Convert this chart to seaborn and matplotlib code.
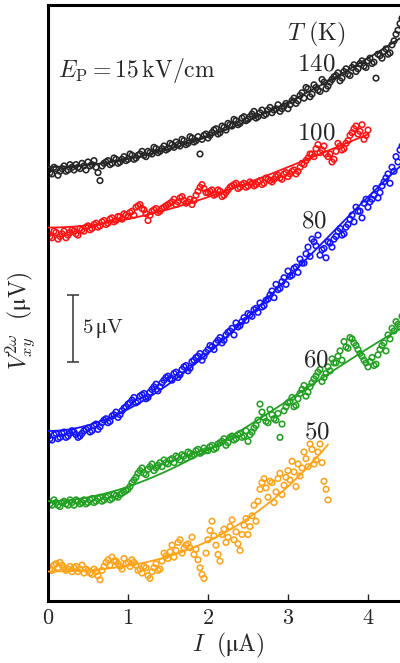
import numpy as np
import pandas as pd
import matplotlib
matplotlib.use("Agg")
import matplotlib.pyplot as plt
import seaborn as sns

# current sweep (uA): main grid and the in-between readings
CURRENT = [
    0.00, 0.05, 0.10, 0.15, 0.20, 0.25, 0.30, 0.35, 0.40, 0.45,
    0.50, 0.55, 0.60, 0.65, 0.70, 0.75, 0.80, 0.85, 0.90, 0.95,
    1.00, 1.05, 1.10, 1.15, 1.20, 1.25, 1.30, 1.35, 1.40, 1.45,
    1.50, 1.55, 1.60, 1.65, 1.70, 1.75, 1.80, 1.85, 1.90, 1.95,
    2.00, 2.05, 2.10, 2.15, 2.20, 2.25, 2.30, 2.35, 2.40, 2.45,
    2.50, 2.55, 2.60, 2.65, 2.70, 2.75, 2.80, 2.85, 2.90, 2.95,
    3.00, 3.05, 3.10, 3.15, 3.20, 3.25, 3.30, 3.35, 3.40, 3.45,
    3.50, 3.55, 3.60, 3.65, 3.70, 3.75, 3.80, 3.85, 3.90, 3.95,
    4.00, 4.05, 4.10, 4.15, 4.20, 4.25, 4.30, 4.35, 4.40, 4.45,
]
CURRENT_MID = [
    0.025, 0.075, 0.125, 0.175, 0.225, 0.275, 0.325, 0.375, 0.425, 0.475,
    0.525, 0.575, 0.625, 0.675, 0.725, 0.775, 0.825, 0.875, 0.925, 0.975,
    1.025, 1.075, 1.125, 1.175, 1.225, 1.275, 1.325, 1.375, 1.425, 1.475,
    1.525, 1.575, 1.625, 1.675, 1.725, 1.775, 1.825, 1.875, 1.925, 1.975,
    2.025, 2.075, 2.125, 2.175, 2.225, 2.275, 2.325, 2.375, 2.425, 2.475,
    2.525, 2.575, 2.625, 2.675, 2.725, 2.775, 2.825, 2.875, 2.925, 2.975,
    3.025, 3.075, 3.125, 3.175, 3.225, 3.275, 3.325, 3.375, 3.425, 3.475,
    3.525, 3.575, 3.625, 3.675, 3.725, 3.775, 3.825, 3.875, 3.925, 3.975,
    4.025, 4.075, 4.125, 4.175, 4.225, 4.275, 4.325, 4.375, 4.425, 4.475,
]

# V_xy^2w in uV (curves offset vertically as in the figure)
V_140K = [
    32.4, 32.1, 32.5, 32.3, 32.7, 32.4, 32.6, 32.8, 32.5, 32.7,
    33.0, 32.8, 32.6, 31.6, 32.9, 33.1, 32.9, 33.2, 33.0, 33.4,
    33.2, 33.5, 33.3, 33.6, 33.5, 33.8, 33.6, 34.0, 33.8, 34.2,
    34.0, 34.3, 34.5, 34.2, 34.6, 34.4, 34.8, 34.6, 33.6, 35.0,
    34.8, 35.2, 35.5, 35.2, 35.6, 35.9, 35.7, 36.1, 35.9, 36.4,
    36.2, 36.6, 36.3, 36.7, 36.5, 36.9, 36.7, 37.0, 36.8, 37.2,
    37.0, 37.6, 37.4, 38.0, 37.8, 38.5, 38.1, 38.6, 38.3, 39.0,
    38.7, 39.2, 39.5, 39.1, 39.8, 39.6, 40.1, 39.8, 40.4, 40.2,
    40.6, 40.4, 39.3, 41.0, 41.3, 41.1, 41.8, 42.6, 43.4, 44.0,
]
V_140K_MID = [
    32.2, 32.6, 32.0, 32.5, 32.3, 32.8, 32.4, 32.6, 32.9, 32.4,
    32.7, 33.1, 32.2, 32.7, 33.0, 32.8, 33.3, 32.9, 33.2, 33.1,
    33.6, 33.2, 33.5, 33.8, 33.4, 33.7, 34.1, 33.7, 34.0, 33.9,
    34.4, 34.1, 34.3, 34.7, 34.3, 34.9, 34.5, 34.9, 34.7, 35.1,
    35.0, 35.4, 35.1, 35.7, 35.4, 35.8, 36.2, 35.8, 36.3, 36.1,
    36.4, 36.8, 36.4, 36.9, 36.6, 37.1, 36.9, 37.3, 37.0, 37.4,
    37.3, 37.8, 37.6, 38.2, 38.6, 37.9, 38.8, 38.4, 39.2, 38.5,
    39.0, 39.4, 39.7, 39.3, 40.0, 39.5, 40.3, 40.0, 40.6, 40.1,
    40.8, 40.5, 41.1, 40.8, 41.5, 41.2, 42.1, 42.9, 43.8, 44.3,
]
V_100K = [
    27.6, 27.3, 27.7, 27.4, 27.8, 27.5, 27.9, 27.6, 28.0, 27.8,
    28.2, 28.0, 28.4, 28.2, 28.6, 28.4, 28.8, 28.6, 28.9, 29.1,
    28.9, 29.3, 29.6, 29.8, 29.4, 28.6, 29.3, 29.5, 29.3, 29.6,
    29.8, 30.0, 29.8, 30.3, 30.1, 30.0, 29.8, 30.5, 31.1, 31.0,
    30.7, 30.9, 30.6, 30.8, 30.5, 30.9, 31.2, 31.4, 31.1, 31.4,
    31.2, 31.4, 31.3, 31.6, 31.4, 31.7, 31.5, 31.9, 31.8, 32.1,
    31.9, 32.3, 32.1, 32.6, 32.8, 33.3, 33.6, 34.0, 33.7, 34.2,
    33.4, 33.0, 33.8, 34.2, 34.0, 34.6, 35.2, 35.7, 35.3, 34.7,
    35.4,
]
V_100K_MID = [
    27.4, 27.8, 27.2, 27.6, 27.3, 27.7, 27.8, 27.5, 27.9, 28.1,
    27.9, 28.3, 28.1, 28.5, 28.3, 28.7, 28.5, 28.9, 28.7, 29.0,
    29.2, 29.0, 29.7, 29.5, 29.1, 29.0, 29.4, 29.2, 29.5, 29.7,
    29.9, 30.2, 30.0, 30.4, 29.9, 30.2, 30.1, 30.8, 31.3, 30.7,
    30.8, 30.5, 30.9, 30.4, 30.7, 31.1, 31.3, 31.0, 31.3, 31.1,
    31.5, 31.2, 31.5, 31.3, 31.8, 31.6, 31.7, 32.0, 31.7, 32.2,
    32.1, 32.4, 32.3, 32.9, 33.1, 33.6, 33.4, 34.3, 33.9, 33.6,
    33.6, 33.2, 34.4, 33.9, 34.4, 35.0, 35.5, 35.1, 35.8, 35.0,
]
V_80K = [
    12.4, 12.1, 12.6, 12.3, 12.7, 12.4, 12.8, 12.5, 12.4, 12.8,
    13.0, 12.8, 13.3, 13.1, 13.6, 13.4, 13.9, 14.2, 14.0, 14.5,
    14.8, 15.1, 14.9, 15.4, 15.6, 15.3, 15.9, 16.3, 16.1, 16.6,
    16.9, 16.6, 17.2, 17.0, 17.6, 17.3, 18.0, 18.3, 18.6, 18.4,
    18.9, 19.1, 19.4, 19.8, 19.6, 20.2, 20.5, 20.9, 20.7, 21.3,
    21.6, 21.4, 22.0, 22.4, 22.2, 22.7, 23.3, 23.8, 23.5, 24.3,
    24.8, 24.5, 25.1, 25.7, 25.4, 26.6, 27.2, 26.7, 26.0, 26.5,
    27.0, 26.6, 27.4, 28.0, 27.6, 28.3, 29.0, 29.6, 29.3, 29.9,
    29.6, 30.2, 31.0, 30.7, 31.5, 32.1, 32.6, 33.4, 33.9, 34.5,
]
V_80K_MID = [
    12.2, 12.5, 12.2, 12.6, 12.3, 12.6, 12.7, 12.3, 12.6, 12.9,
    12.7, 13.2, 12.9, 13.4, 13.7, 13.5, 14.0, 13.8, 14.3, 14.6,
    14.9, 15.3, 15.0, 15.5, 15.2, 15.7, 16.1, 15.8, 16.4, 16.8,
    16.7, 17.1, 16.8, 17.4, 17.7, 17.5, 18.1, 18.4, 18.1, 18.7,
    19.2, 18.9, 19.6, 19.4, 20.0, 20.3, 20.0, 20.6, 21.0, 21.1,
    21.5, 21.9, 21.7, 22.1, 22.6, 23.0, 22.8, 23.4, 24.0, 23.8,
    24.4, 25.0, 24.7, 25.4, 26.1, 25.9, 27.0, 27.5, 26.4, 25.8,
    26.9, 27.2, 27.8, 27.5, 28.1, 28.7, 28.5, 29.3, 28.8, 30.2,
    30.0, 30.5, 30.3, 31.2, 31.8, 31.4, 32.3, 33.0, 34.2, 34.8,
]
V_60K = [
    7.5, 7.2, 7.4, 7.1, 7.5, 7.2, 7.4, 7.6, 7.3, 7.6,
    7.4, 7.7, 7.5, 7.8, 7.6, 7.9, 7.7, 7.9, 8.0, 8.2,
    8.4, 8.9, 9.3, 9.8, 9.6, 9.9, 10.3, 10.0, 10.4, 10.6,
    10.3, 10.7, 10.9, 10.6, 10.9, 11.2, 10.9, 11.3, 11.1, 11.5,
    11.3, 11.7, 11.5, 11.9, 12.2, 11.9, 12.4, 12.2, 12.6, 12.4,
    12.0, 12.7, 13.2, 14.8, 13.8, 13.4, 14.0, 13.6, 12.3, 14.3,
    14.9, 15.3, 14.7, 15.6, 16.2, 15.7, 16.4, 16.9, 17.4, 16.8,
    17.6, 18.2, 17.9, 18.8, 19.5, 19.0, 19.7, 19.2, 18.6, 18.1,
    17.6, 18.3, 17.8, 18.9, 19.4, 20.0, 20.5, 21.0, 20.6, 21.3,
]
V_60K_MID = [
    7.3, 7.6, 7.2, 7.4, 7.3, 7.6, 7.2, 7.5, 7.4, 7.3,
    7.6, 7.4, 7.7, 7.5, 7.8, 7.6, 8.0, 7.8, 8.1, 8.3,
    8.6, 9.1, 9.6, 10.0, 9.5, 10.1, 9.8, 10.2, 10.1, 10.4,
    10.6, 10.4, 10.8, 11.0, 10.7, 11.1, 11.0, 11.4, 11.2, 11.3,
    11.6, 11.4, 11.8, 12.0, 11.7, 12.3, 12.1, 12.5, 12.3, 12.8,
    12.5, 13.0, 13.6, 14.2, 13.5, 14.4, 13.7, 14.1, 13.3, 14.6,
    15.0, 14.6, 15.2, 15.9, 15.4, 16.1, 16.7, 17.2, 16.5, 17.1,
    17.3, 17.9, 18.4, 18.1, 19.1, 19.8, 19.4, 18.9, 18.4, 17.9,
    18.0, 17.7, 18.5, 19.2, 18.8, 19.7, 20.3, 20.8, 21.4, 21.0,
]
V_50K = [
    2.6, 2.3, 2.8, 2.9, 2.5, 2.4, 2.2, 2.6, 2.4, 2.1,
    2.3, 2.0, 2.2, 1.6, 2.6, 3.1, 3.3, 3.0, 2.6, 3.2,
    2.9, 3.1, 2.7, 2.4, 2.6, 1.9, 2.2, 2.8, 2.4, 3.6,
    3.2, 4.2, 3.8, 4.6, 4.0, 4.3, 4.8, 3.9, 2.5, 1.7,
    4.6, 6.0, 4.2, 3.0, 5.4, 4.8, 6.1, 5.2, 3.8, 5.7,
    5.0, 6.4, 6.0, 8.4, 9.2, 7.8, 8.9, 8.2, 9.6, 8.7,
    9.8, 10.5, 8.6, 9.4, 11.2, 10.1, 11.4, 10.6, 11.8, 9.0,
    7.6,
]
V_50K_MID = [
    2.4, 2.7, 2.5, 2.7, 2.3, 2.6, 2.5, 2.2, 2.7, 2.4,
    2.1, 2.4, 1.9, 2.3, 2.9, 2.7, 3.0, 2.8, 2.4, 2.8,
    2.6, 2.9, 2.3, 2.1, 2.5, 1.7, 2.5, 2.3, 3.0, 3.4,
    3.7, 3.3, 4.4, 3.6, 4.2, 4.0, 3.5, 3.1, 2.0, 3.6,
    5.3, 4.9, 3.5, 5.0, 4.4, 5.6, 4.6, 4.3, 5.0, 6.2,
    5.6, 7.2, 7.5, 8.9, 8.5, 9.0, 7.4, 9.2, 8.0, 9.3,
    9.1, 9.7, 10.3, 10.0, 10.7, 11.8, 10.3, 11.2, 10.4, 8.4,
]

TEMPS = ["140", "100", "80", "60", "50"]
SERIES = [(V_140K, V_140K_MID), (V_100K, V_100K_MID), (V_80K, V_80K_MID),
          (V_60K, V_60K_MID), (V_50K, V_50K_MID)]
COLORS = ["#262626", "#ff1414", "#1414ff", "#22a022", "#ffa31a"]
XTICKS = [0, 1, 2, 3, 4]
SCALE_BAR_UV = 5

rows = []
for t, (vals, mids) in zip(TEMPS, SERIES):
    for i, v in zip(CURRENT, vals):
        rows.append((t, i, v))
    for i, v in zip(CURRENT_MID, mids):
        rows.append((t, i, v))
df = pd.DataFrame(rows, columns=["T", "I", "V"]).sort_values(["T", "I"])


def fit_curve(sub):
    # V = V0 + a*I^2 + b*I^3 least squares fit of the measured points
    x = sub["I"].to_numpy()
    A = np.column_stack([np.ones_like(x), x ** 2, x ** 3])
    coef = np.linalg.lstsq(A, sub["V"].to_numpy(), rcond=None)[0]
    xf = np.linspace(x.min(), x.max(), 200)
    yf = coef[0] + coef[1] * xf ** 2 + coef[2] * xf ** 3
    return pd.DataFrame({"I": xf, "V": yf})


sns.set_style("ticks")
plt.rcParams["mathtext.fontset"] = "cm"
plt.rcParams["font.family"] = ["DejaVu Serif", "DejaVu Sans"]

fig = plt.figure(figsize=(4.0, 6.63), dpi=100)
ax = fig.add_axes([0.12, 0.0935, 0.9, 0.899])

for t, c in zip(TEMPS, COLORS):
    sub = df[df["T"] == t]
    sns.scatterplot(data=sub, x="I", y="V", ax=ax, marker="o", s=16,
                    facecolor="none", edgecolor=c, linewidth=1.15,
                    legend=False, zorder=2)
    sns.lineplot(data=fit_curve(sub), x="I", y="V", ax=ax, color=c,
                 lw=1.3, zorder=3)

ax.set_xlim(0, 4.5)
ax.set_ylim(0, 44.8)

for s in ["left", "bottom", "top", "right"]:
    ax.spines[s].set_linewidth(2.2)
    ax.spines[s].set_color("black")

ax.set_xticks(XTICKS)
ax.set_xticklabels([f"${t}$" for t in XTICKS])
ax.tick_params(axis="x", direction="in", length=5, width=1, labelsize=16,
               pad=4, top=False)
ax.tick_params(axis="y", left=False, labelleft=False)

ax.set_xlabel(r"$I\ \ (\mathrm{μA})$", fontsize=17, labelpad=2)
ax.set_ylabel(r"$V_{xy}^{2\omega}\ \ (\mathrm{μV})$", fontsize=17)
ax.yaxis.set_label_coords(-0.03, 0.47)

# scale bar
ax.errorbar([0.31], [20.5], yerr=[SCALE_BAR_UV / 2], color="#333333",
            capsize=4, elinewidth=1.1, capthick=1.1, zorder=4)
ax.text(0.43, 20.5, r"$5\,\mathrm{μV}$", fontsize=15, va="center", ha="left")

ax.text(0.12, 39.9, r"$E_{\mathrm{P}} = 15\,\mathrm{kV/cm}$", fontsize=17,
        va="center", ha="left")
ax.text(3.35, 42.6, r"$T\ (\mathrm{K})$", fontsize=17.5, va="center", ha="center")
label_pos = [(3.35, 40.4), (3.35, 35.2), (3.33, 28.6), (3.35, 18.1), (3.36, 12.7)]
for t, (px, py) in zip(TEMPS, label_pos):
    ax.text(px, py, f"${t}$", fontsize=18, va="center", ha="center")

fig.savefig("out.png", dpi=100)
